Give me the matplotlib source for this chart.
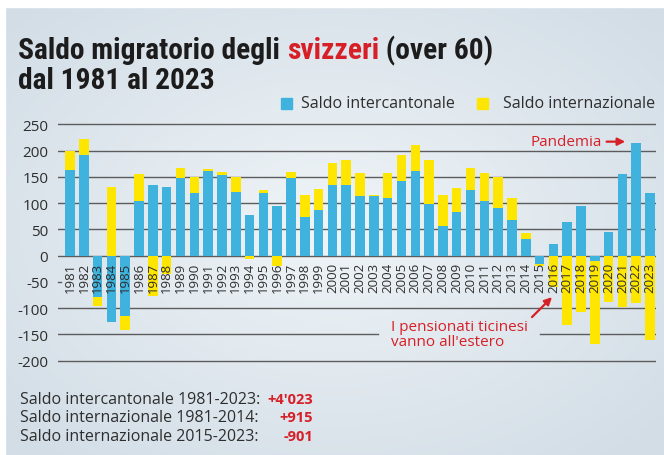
import numpy as np
import matplotlib
matplotlib.use('Agg')
import matplotlib.pyplot as plt
from matplotlib.patches import Rectangle
from matplotlib import font_manager

years = list(range(1981, 2024))
intercantonale = [163, 191, -78, -127, -115, 104, 134, 130, 147, 120,
                  161, 153, 121, 77, 120, 95, 147, 73, 87, 134,
                  134, 113, 114, 110, 142, 162, 99, 56, 84, 125,
                  104, 91, 68, 31, -15, 23, 64, 95, -10, 45,
                  155, 215, 120]
internazionale = [36, 32, -17, 130, -26, 51, -76, -35, 20, 30,
                  4, 7, 29, -6, 5, -19, 13, 43, 40, 42,
                  48, 45, 2, 48, 50, 48, 83, 60, 45, 42,
                  54, 58, 42, 13, -5, -59, -133, -108, -158, -89,
                  -98, -90, -161]
yticks = [250, 200, 150, 100, 50, 0, -50, -100, -150, -200]
footer_labels = ['Saldo intercantonale 1981-2023:',
                 'Saldo internazionale 1981-2014:',
                 'Saldo internazionale 2015-2023:']
footer_values = ["+4'023", '+915', '-901']

BLUE = '#3fb2dd'
YELLOW = '#ffe600'
RED = '#d71f27'
DARK = '#2e2e2e'
GRID = '#5c5c5c'
W, H = 664, 456

plt.rcParams['font.family'] = ['Open Sans', 'DejaVu Sans']

# pick a narrow bold face for the title if one is installed
fonts = font_manager.fontManager.ttflist
names = {f.name for f in fonts}
tfont = dict(fontweight='bold')
if 'Liberation Sans Narrow' in names:
    tfont['family'] = ['Liberation Sans Narrow', 'DejaVu Sans']
elif 'Roboto Condensed' in names:
    tfont['family'] = ['Roboto Condensed', 'DejaVu Sans']
elif any(f.name == 'DejaVu Sans' and f.stretch == 'condensed' for f in fonts):
    tfont['family'] = ['DejaVu Sans']
    tfont['fontstretch'] = 'condensed'
else:
    tfont['family'] = ['Roboto', 'DejaVu Sans']

fig = plt.figure(figsize=(W / 100, H / 100), dpi=100)

def fx(px):
    return px / W

def fy(py):
    return 1 - py / H

# background gradient
bg_ax = fig.add_axes([0, 0, 1, 1], zorder=-10)
yy, xx = np.mgrid[0:1:200j, 0:1:300j]
r = np.sqrt(((xx - 0.5) / 0.9) ** 2 + ((yy - 0.5) / 0.9) ** 2)
c_in = np.array([239, 244, 247]) / 255
c_out = np.array([210, 221, 230]) / 255
t = np.clip(r / 0.75, 0, 1)[..., None]
img = c_in * (1 - t) + c_out * t
bg_ax.imshow(img, aspect='auto', extent=[0, 1, 0, 1])
bg_ax.axis('off')
fig.patches.append(Rectangle((0, fy(8)), 1, 1, transform=fig.transFigure, color='white', zorder=-5))
fig.patches.append(Rectangle((0, 0), fx(5), 1, transform=fig.transFigure, color='white', zorder=-5))

# main axes
x0, x1 = 1980.13, 2023.43
ax = fig.add_axes([fx(58), fy(364.3), fx(656) - fx(58), fy(122.7) - fy(364.3)])
ax.set_facecolor('none')
ax.set_xlim(x0, x1)
ax.set_ylim(-205, 255)

inter = np.array(intercantonale)
intl = np.array(internazionale)
bottom = np.where(np.sign(inter) == np.sign(intl), inter, 0)

ax.bar(years, inter, width=0.69, color=BLUE, zorder=3)
ax.bar(years, intl, bottom=bottom, width=0.69, color=YELLOW, zorder=3)

for v in yticks:
    if v == -50:
        ax.plot([x0, 1980.35], [v, v], color=GRID, lw=1.0, zorder=1, clip_on=False)
    elif v == -150:
        ax.plot([x0, 2003.3], [v, v], color=GRID, lw=1.0, zorder=1)
        ax.plot([2015.05, x1], [v, v], color=GRID, lw=1.0, zorder=1)
    else:
        ax.axhline(v, color=GRID, lw=1.0, zorder=1)

ax.set_yticks(yticks)
ax.set_yticklabels([str(v) for v in yticks], fontsize=11, color=DARK)
ax.tick_params(axis='y', length=0, pad=7)
ax.set_xticks([])
for s in ax.spines.values():
    s.set_visible(False)

for yr in years:
    ax.text(yr, -12, str(yr), rotation=90, ha='center', va='top',
            fontsize=9.5, color=DARK, zorder=4)

# annotations
ax.annotate('', xy=(2021.2, 217), xytext=(2019.85, 217),
            arrowprops=dict(arrowstyle='-|>', color=RED, lw=1.6, mutation_scale=11,
                            shrinkA=0, shrinkB=0))
ax.text(2019.5, 217, 'Pandemia', ha='right', va='center', fontsize=11, color=RED)

ax.annotate('', xy=(2015.9, -79), xytext=(2014.45, -117),
            arrowprops=dict(arrowstyle='-|>', color=RED, lw=1.6, mutation_scale=11,
                            shrinkA=0, shrinkB=0))
ax.text(2004.25, -150, "I pensionati ticinesi\nvanno all'estero", ha='left', va='center',
        fontsize=11, color=RED, linespacing=1.0)

# title, sized so that the first line spans the same width as the original
r = fig.canvas.get_renderer()
parts = [('Saldo migratorio degli ', '#1c1c1c'), ('svizzeri', RED), (' (over 60)', '#1c1c1c')]
tsize = 18
x = fx(18)
texts = []
for part, col in parts:
    t = fig.text(x, fy(59), part, color=col, va='baseline', ha='left', fontsize=tsize, **tfont)
    texts.append(t)
    x += t.get_window_extent(renderer=r).width / W
tsize = min(18 * 477 / ((x - fx(18)) * W), 22)
x = fx(18)
for t in texts:
    t.set_fontsize(tsize)
    t.set_x(x)
    x += t.get_window_extent(renderer=r).width / W
fig.text(fx(18), fy(89), 'dal 1981 al 2023', color='#1c1c1c', va='baseline', ha='left',
         fontsize=tsize, **tfont)

# legend, right aligned to the plot edge
t2 = fig.text(fx(655), fy(104.5), 'Saldo internazionale', va='center', ha='right',
              fontsize=11.5, color=DARK)
lx2 = t2.get_window_extent(renderer=r).x0
fig.patches.append(Rectangle(((lx2 - 26) / W, fy(110)), 11 / W, 11 / H,
                             transform=fig.transFigure, color=YELLOW, zorder=2))
t1 = fig.text((lx2 - 48) / W, fy(104.5), 'Saldo intercantonale', va='center', ha='right',
              fontsize=11.5, color=DARK)
lx1 = t1.get_window_extent(renderer=r).x0
fig.patches.append(Rectangle(((lx1 - 20) / W, fy(110)), 11 / W, 11 / H,
                             transform=fig.transFigure, color=BLUE, zorder=2))

# footer
for i, (lab, val) in enumerate(zip(footer_labels, footer_values)):
    py = 400 + i * 18.5
    fig.text(fx(20), fy(py), lab, va='center', ha='left', fontsize=11.5, color=DARK)
    fig.text(fx(313), fy(py), val, va='center', ha='right', fontsize=10.5,
             color=RED, fontweight='bold')

fig.savefig('out.png', dpi=100)
